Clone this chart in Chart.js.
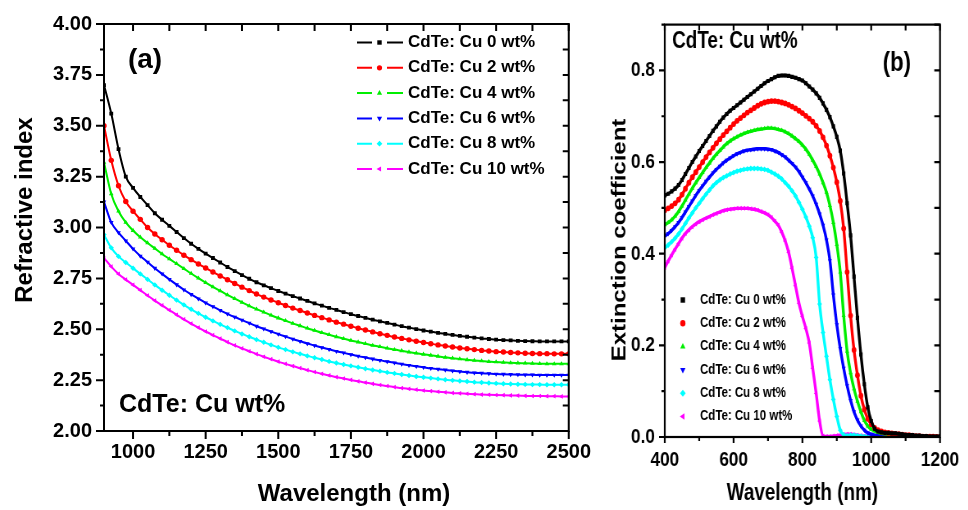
<!DOCTYPE html>
<html><head><meta charset="utf-8">
<script src="https://cdn.jsdelivr.net/npm/chart.js@4.4.1/dist/chart.umd.min.js"></script>
<style>
html,body{margin:0;padding:0;background:#fff;}
body{width:968px;height:510px;position:relative;overflow:hidden;}
#ca{position:absolute;left:0;top:0;}
#wb{position:absolute;left:600px;top:0;width:449px;height:510px;transform:scaleX(0.82);transform-origin:0 0;}
#cb{position:absolute;left:0;top:0;}
</style></head><body>
<canvas id="ca" width="600" height="510"></canvas>
<div id="wb"><canvas id="cb" width="449" height="510"></canvas></div>
<script>
// ---------- data ----------
const seriesLabels = ['CdTe: Cu 0 wt%','CdTe: Cu 2 wt%','CdTe: Cu 4 wt%','CdTe: Cu 6 wt%','CdTe: Cu 8 wt%','CdTe: Cu 10 wt%'];

const ticksAx = [1000,1250,1500,1750,2000,2250,2500];
const ticksAy = [2.00,2.25,2.50,2.75,3.00,3.25,3.50,3.75,4.00];
const ticksBx = [400,600,800,1000,1200];
const ticksBy = [0.0,0.2,0.4,0.6,0.8];

const wavelengthA = [900,925,950,975,1000,1025,1050,1075,1100,1125,1150,1175,1200,1225,1250,1275,1300,1325,1350,1375,1400,1425,1450,1475,1500,1525,1550,1575,1600,1625,1650,1675,1700,1725,1750,1775,1800,1825,1850,1875,1900,1925,1950,1975,2000,2025,2050,2075,2100,2125,2150,2175,2200,2225,2250,2275,2300,2325,2350,2375,2400,2425,2450,2475,2500];

const n0 = [3.700,3.560,3.385,3.250, 3.195,3.150,3.110,3.070, 3.038,3.008,2.978,2.948, 2.920,2.895,2.872,2.850, 2.828,2.806,2.786,2.766, 2.748,2.731,2.716,2.702, 2.688,2.675,2.663,2.651, 2.639,2.627,2.616,2.605, 2.595,2.584,2.574,2.565, 2.556,2.547,2.539,2.531, 2.523,2.515,2.508,2.501, 2.494,2.488,2.482,2.477, 2.472,2.467,2.463,2.459, 2.455,2.452,2.449,2.447, 2.445,2.443,2.442,2.441, 2.440,2.440,2.440,2.440, 2.440];
const n2 = [3.500,3.330,3.205,3.128, 3.080,3.040,3.000,2.968, 2.940,2.913,2.888,2.864, 2.842,2.821,2.801,2.781, 2.762,2.743,2.725,2.707, 2.690,2.673,2.658,2.644, 2.630,2.617,2.604,2.592, 2.580,2.568,2.557,2.546, 2.535,2.525,2.515,2.505, 2.496,2.487,2.478,2.470, 2.462,2.455,2.448,2.441, 2.435,2.429,2.423,2.418, 2.413,2.408,2.404,2.400, 2.396,2.393,2.390,2.388, 2.386,2.384,2.382,2.381, 2.380,2.380,2.379,2.379, 2.379];
const n4 = [3.320,3.165,3.080,3.025, 2.985,2.952,2.924,2.897, 2.870,2.846,2.822,2.798, 2.774,2.751,2.729,2.708, 2.688,2.669,2.650,2.632, 2.615,2.599,2.584,2.569, 2.555,2.542,2.529,2.517, 2.505,2.494,2.483,2.473, 2.463,2.454,2.445,2.437, 2.429,2.421,2.414,2.407, 2.400,2.394,2.388,2.382, 2.377,2.372,2.367,2.362, 2.358,2.354,2.350,2.347, 2.344,2.341,2.339,2.337, 2.335,2.334,2.333,2.332, 2.331,2.330,2.330,2.330, 2.330];
const n6 = [3.126,3.025,2.975,2.935, 2.895,2.860,2.830,2.800, 2.772,2.745,2.719,2.694, 2.671,2.650,2.630,2.611, 2.593,2.576,2.560,2.545, 2.530,2.515,2.502,2.489, 2.476,2.464,2.452,2.441, 2.430,2.420,2.410,2.401, 2.392,2.384,2.376,2.368, 2.361,2.354,2.347,2.341, 2.335,2.329,2.323,2.318, 2.313,2.308,2.304,2.300, 2.296,2.292,2.289,2.286, 2.284,2.282,2.280,2.279, 2.278,2.277,2.276,2.276, 2.275,2.275,2.275,2.275, 2.275];
const n8 = [2.965,2.900,2.858,2.828, 2.800,2.772,2.745,2.718, 2.692,2.667,2.643,2.620, 2.598,2.578,2.559,2.541, 2.524,2.508,2.492,2.477, 2.463,2.449,2.436,2.423, 2.411,2.400,2.389,2.379, 2.369,2.360,2.351,2.342, 2.334,2.327,2.320,2.313, 2.306,2.300,2.294,2.288, 2.283,2.278,2.273,2.268, 2.264,2.260,2.256,2.252, 2.249,2.246,2.243,2.240, 2.238,2.236,2.234,2.232, 2.231,2.230,2.229,2.228, 2.228,2.227,2.227,2.227, 2.227];
const n10 = [2.850,2.808,2.772,2.744, 2.718,2.692,2.666,2.641, 2.617,2.594,2.571,2.549, 2.528,2.508,2.489,2.471, 2.454,2.437,2.421,2.406, 2.392,2.378,2.365,2.353, 2.341,2.330,2.319,2.309, 2.299,2.290,2.281,2.273, 2.265,2.258,2.251,2.244, 2.238,2.232,2.226,2.221, 2.216,2.211,2.207,2.203, 2.199,2.196,2.193,2.190, 2.187,2.185,2.183,2.181, 2.179,2.178,2.177,2.176, 2.175,2.174,2.173,2.172, 2.172,2.171,2.171,2.170, 2.170];

const wavelengthB = [400,410,420,430,440,450,460,470,480,490,500,510,520,530,540,550,560,570,580,590,600,610,620,630,640,650,660,670,680,690,700,710,720,730,740,750,760,770,780,790,800,810,820,830,840,850,860,870,880,890,900,910,920,930,940,950,960,970,980,990,1000,1010,1020,1030,1040,1050,1060,1070,1080,1090,1100,1110,1120,1130,1140,1150,1160,1170,1180,1190,1200];

const k0 = [.527,.531,.536,.542,.550,.561,.574,.587,.600,.612, .624,.635,.646,.657,.668,.678,.688,.697,.705,.712, .718,.724,.730,.736,.742,.748,.754,.760,.766,.772, .777,.781,.785,.788,.789,.789,.788,.786,.784,.781, .778,.772,.765,.758,.750,.740,.728,.714,.698,.678, .655,.625,.575,.510,.440,.350,.260,.180,.115,.065, .035,.018,.012,.010,.009,.009,.008,.008,.007,.006, .005,.004,.004,.003,.003,.002,.002,.001,.001,.001, .001];
const k2 = [.495,.499,.504,.510,.518,.529,.542,.555,.567,.578, .589,.600,.611,.621,.631,.641,.650,.659,.667,.675, .683,.690,.696,.702,.708,.713,.718,.723,.727,.730, .732,.733,.733,.732,.730,.728,.725,.721,.717,.712, .707,.701,.695,.688,.679,.668,.654,.636,.614,.588, .556,.515,.455,.360,.265,.190,.135,.090,.060,.040, .028,.020,.015,.012,.010,.009,.008,.007,.006,.005, .004,.004,.003,.002,.002,.001,.001,.001,.001,0, 0];
const k4 = [.463,.468,.474,.482,.492,.504,.517,.530,.543,.555, .566,.577,.588,.598,.608,.617,.625,.633,.640,.646, .651,.655,.659,.662,.665,.667,.669,.671,.672,.673, .674,.674,.673,.671,.669,.666,.662,.657,.651,.645, .637,.628,.617,.604,.590,.574,.555,.534,.505,.468, .420,.360,.265,.187,.140,.105,.078,.055,.036,.024, .017,.013,.010,.008,.007,.006,.005,.004,.004,.003, .003,.002,.002,.001,.001,.001,.001,0,0,0, 0];
const k6 = [.438,.444,.451,.459,.468,.479,.491,.503,.515,.527, .538,.548,.558,.567,.576,.584,.591,.598,.604,.609, .614,.618,.621,.624,.626,.627,.628,.629,.629,.629, .628,.627,.624,.621,.616,.611,.604,.597,.589,.579, .567,.555,.541,.526,.508,.487,.462,.430,.385,.310, .245,.193,.150,.112,.080,.055,.037,.024,.015,.009, .006,.004,.003,.002,.002,.001,.001,0,0,0, 0,0,0,0,0,0,0,0,0,0, 0];
const k8 = [.413,.419,.426,.434,.443,.454,.466,.478,.489,.500, .510,.520,.530,.539,.548,.555,.561,.566,.570,.574, .577,.580,.582,.584,.585,.586,.586,.586,.585,.584, .582,.578,.574,.569,.563,.555,.547,.537,.526,.512, .497,.480,.460,.435,.392,.290,.228,.176,.125,.082, .045,.015,.005,.003,.004,.004,.003,.002,.001,.001, 0,0,0,0,0,0,0,0,0,0, 0,0,0,0,0,0,0,0,0,0, 0];
const k10 = [.370,.384,.397,.410,.422,.434,.444,.452,.459,.465, .470,.474,.478,.481,.485,.488,.491,.494,.496,.497, .498,.499,.499,.499,.499,.498,.497,.495,.492,.489, .485,.479,.471,.462,.447,.428,.403,.368,.330,.292, .263,.237,.205,.150,.095,.035,.002,.001,.001,.002, .003,.004,.005,.006,.006,.005,.004,.003,.002,.001, .001,0,0,0,0,0,0,0,0,0, 0,0,0,0,0,0,0,0,0,0, 0];

const indexSeries = [n0, n2, n4, n6, n8, n10];
const extinctionSeries = [k0, k2, k4, k6, k8, k10];

// ---------- styles ----------
const seriesColors = ['#000000','#ff0000','#00ee00','#0000ff','#00ffff','#ff00ff'];
const markerStyles = ['rect','circle','triangle','triangle','rectRot','triangle'];
const markerRotations = [0,0,0,180,0,270];
const FA = "'Liberation Sans', Arial, sans-serif";

function drawMarker(ctx, style, rot, x, y, r, color){
  ctx.save(); ctx.translate(x, y); ctx.rotate((rot||0)*Math.PI/180);
  ctx.fillStyle = color; ctx.beginPath();
  if (style === 'rect') { const s = r*0.85; ctx.rect(-s,-s,2*s,2*s); }
  else if (style === 'circle') { ctx.arc(0,0,r,0,Math.PI*2); }
  else if (style === 'triangle') { ctx.moveTo(0,-r*1.15); ctx.lineTo(r*1.0,r*0.6); ctx.lineTo(-r*1.0,r*0.6); ctx.closePath(); }
  else if (style === 'rectRot') { ctx.moveTo(0,-r*1.1); ctx.lineTo(r*1.1,0); ctx.lineTo(0,r*1.1); ctx.lineTo(-r*1.1,0); ctx.closePath(); }
  ctx.fill(); ctx.restore();
}

const isMajor = (v, from, major) => { const q = (v-from)/major; return Math.abs(q-Math.round(q)) < 1e-6; };
const fixedTicks = arr => (s => { s.ticks = arr.map(v => ({ value: v })); });

const framePlugin = {
  id: 'frame',
  afterDatasetsDraw(chart, args, o){
    const {ctx, chartArea:{left,right,top,bottom}, scales:{x,y}} = chart;
    ctx.save();
    ctx.strokeStyle = '#000'; ctx.lineWidth = o.lw; ctx.lineCap = 'butt';
    ctx.beginPath();
    for (let i = 0; ; i++) {
      const v = o.xFrom + i*o.xStep; if (v > x.max + 1e-9) break;
      const px = x.getPixelForValue(v); const M = isMajor(v, o.xFrom, o.xMajor);
      ctx.moveTo(px, bottom); ctx.lineTo(px, bottom + (M ? o.bMaj : o.bMin));
      ctx.moveTo(px, top); ctx.lineTo(px, top + (M ? o.tMaj : o.tMin));
    }
    for (let i = 0; ; i++) {
      const v = o.yFrom + i*o.yStep; if (v > y.max + 1e-9) break;
      const py = y.getPixelForValue(v); const M = isMajor(v, o.yFrom, o.yMajor);
      ctx.moveTo(left, py); ctx.lineTo(left - (M ? o.lMaj : o.lMin), py);
      ctx.moveTo(right, py); ctx.lineTo(right - (M ? o.rMaj : o.rMin), py);
    }
    ctx.stroke();
    ctx.strokeRect(left, top, right-left, bottom-top);
    ctx.restore();
  }
};

const legendPlugin = {
  id: 'legendBox',
  afterDraw(chart, args, o){
    const ctx = chart.ctx; ctx.save();
    chart.data.datasets.forEach((ds, i) => {
      const yy = o.y0 + i*o.dy;
      if (o.line) {
        ctx.strokeStyle = ds.borderColor; ctx.lineWidth = o.lineWidth; ctx.beginPath();
        ctx.moveTo(o.line[0], yy); ctx.lineTo(o.line[1], yy);
        ctx.moveTo(o.line[2], yy); ctx.lineTo(o.line[3], yy); ctx.stroke();
      }
      drawMarker(ctx, ds.pointStyle, ds.pointRotation, o.markerX, yy, o.markerR, ds.backgroundColor);
      ctx.fillStyle = '#000'; ctx.font = o.font; ctx.textAlign = 'left'; ctx.textBaseline = 'middle';
      ctx.fillText(ds.label, o.textX, yy);
    });
    ctx.restore();
  }
};

const notesPlugin = {
  id: 'notes',
  afterDraw(chart, args, o){
    const ctx = chart.ctx;
    (o.items || []).forEach(it => {
      ctx.save();
      ctx.translate(it.x, it.y); if (it.rot) ctx.rotate(it.rot*Math.PI/180);
      ctx.fillStyle = '#000'; ctx.font = it.font; ctx.textAlign = it.align; ctx.textBaseline = 'middle';
      ctx.fillText(it.text, 0, 0);
      ctx.restore();
    });
  }
};

function makeDatasets(xs, series, bw, pr){
  return series.map((arr, i) => ({
    label: seriesLabels[i],
    data: xs.map((w, j) => ({x: w, y: arr[j]})),
    borderColor: seriesColors[i], backgroundColor: seriesColors[i],
    borderWidth: bw, pointStyle: markerStyles[i], pointRotation: markerRotations[i],
    pointRadius: pr, pointBorderWidth: 0, pointHoverRadius: pr,
    cubicInterpolationMode: 'monotone', fill: false
  }));
}

// ---------- panel (a) ----------
new Chart(document.getElementById('ca'), {
  type: 'line',
  data: { datasets: makeDatasets(wavelengthA, indexSeries, 2, 2.7) },
  options: {
    responsive: false, animation: false, devicePixelRatio: 1,
    layout: { padding: { left: 0, right: 25, top: 18, bottom: 0 } },
    plugins: {
      legend: { display: false }, tooltip: { enabled: false },
      frame: { lw: 2, xFrom: 1000, xStep: 125, xMajor: 250, yFrom: 2, yStep: 0.125, yMajor: 0.25,
               bMaj: 8, bMin: 5, tMaj: 7, tMin: 7, lMaj: 8, lMin: 4, rMaj: 6, rMin: 6 },
      legendBox: { y0: 42.5, dy: 25.3, line: [357, 372, 387, 403], lineWidth: 2, markerX: 379.5, markerR: 2.6,
                   textX: 408, font: "bold 17px " + FA },
      notes: { items: [
        { text: '(a)', x: 145, y: 60, font: "bold 28px " + FA, align: 'center' },
        { text: 'CdTe: Cu wt%', x: 119, y: 405, font: "bold 25px " + FA, align: 'left' },
        { text: 'Wavelength (nm)', x: 354, y: 494, font: "bold 24px " + FA, align: 'center' },
        { text: 'Refractive index', x: 25, y: 210, rot: -90, font: "bold 24px " + FA, align: 'center' }
      ] }
    },
    scales: {
      x: {
        type: 'linear', min: 900, max: 2500,
        afterFit(s){ s.height = 79; },
        afterBuildTicks: fixedTicks(ticksAx),
        grid: { display: false, drawTicks: false }, border: { display: false },
        ticks: { padding: 9, color: '#000', autoSkip: false, maxRotation: 0,
                 callback: v => String(v),
                 font: { family: FA, size: 20, weight: 'bold' } },
        title: { display: false }
      },
      y: {
        type: 'linear', min: 2, max: 4,
        afterFit(s){ s.width = 104; },
        afterBuildTicks: fixedTicks(ticksAy),
        grid: { display: false, drawTicks: false }, border: { display: false },
        ticks: { padding: 12, color: '#000', autoSkip: false,
                 callback: v => Number(v).toFixed(2),
                 font: { family: FA, size: 20, weight: 'bold' } },
        title: { display: false }
      }
    }
  },
  plugins: [framePlugin, legendPlugin, notesPlugin]
});

// ---------- panel (b) : drawn on a wider canvas, squeezed horizontally by CSS ----------
new Chart(document.getElementById('cb'), {
  type: 'line',
  data: { datasets: makeDatasets(wavelengthB, extinctionSeries, 3.4, 2.9) },
  options: {
    responsive: false, animation: false, devicePixelRatio: 1,
    layout: { padding: { left: 0, right: 34, top: 17, bottom: 0 } },
    plugins: {
      legend: { display: false }, tooltip: { enabled: false },
      frame: { lw: 2.2, xFrom: 400, xStep: 100, xMajor: 200, yFrom: 0, yStep: 0.1, yMajor: 0.2,
               bMaj: 6, bMin: 4, tMaj: 6, tMin: 6, lMaj: 7, lMin: 4, rMaj: 7, rMin: 7 },
      legendBox: { y0: 300, dy: 23.3, line: null, markerX: 101, markerR: 3.2,
                   textX: 122, font: "bold 14px " + FA },
      notes: { items: [
        { text: 'CdTe: Cu wt%', x: 88, y: 42, font: "bold 23px " + FA, align: 'left' },
        { text: '(b)', x: 362, y: 64, font: "bold 27px " + FA, align: 'center' },
        { text: 'Extinction coefficient', x: 24, y: 240, rot: -90, font: "bold 24px " + FA, align: 'center' }
      ] }
    },
    scales: {
      x: {
        type: 'linear', min: 400, max: 1200,
        afterFit(s){ s.height = 73; },
        afterBuildTicks: fixedTicks(ticksBx),
        grid: { display: false, drawTicks: false }, border: { display: false },
        ticks: { padding: 11, color: '#000', autoSkip: false, maxRotation: 0,
                 callback: v => String(v),
                 font: { family: FA, size: 21, weight: 'bold' } },
        title: { display: true, text: 'Wavelength (nm)', color: '#000',
                 font: { family: FA, size: 23, weight: 'bold' }, padding: { top: 0, bottom: 3 } }
      },
      y: {
        type: 'linear', min: 0, max: 0.9,
        afterFit(s){ s.width = 79; },
        afterBuildTicks: fixedTicks(ticksBy),
        grid: { display: false, drawTicks: false }, border: { display: false },
        ticks: { padding: 12, color: '#000', autoSkip: false,
                 callback: v => Number(v).toFixed(1),
                 font: { family: FA, size: 21, weight: 'bold' } },
        title: { display: false }
      }
    }
  },
  plugins: [framePlugin, legendPlugin, notesPlugin]
});
</script>
</body></html>
